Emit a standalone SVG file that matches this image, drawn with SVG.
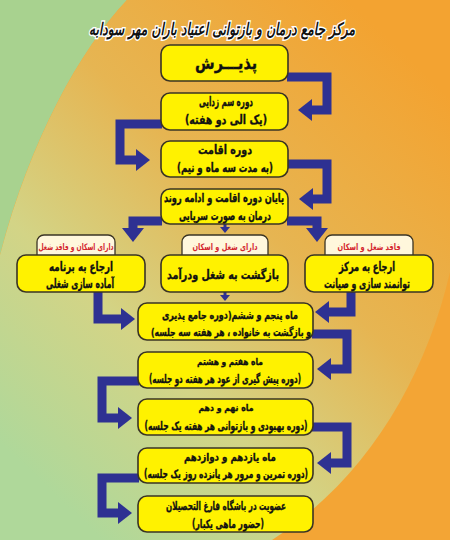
<svg xmlns="http://www.w3.org/2000/svg" width="450" height="540" viewBox="0 0 450 540">
<defs>
<linearGradient id="lens" x1="0.8" y1="0.02" x2="0.1" y2="0.9">
<stop offset="0" stop-color="#F3A331"/>
<stop offset="0.4" stop-color="#E6B552"/>
<stop offset="0.7" stop-color="#D3D486"/>
<stop offset="1" stop-color="#AFD89A"/>
</linearGradient>
<marker id="ah" markerUnits="userSpaceOnUse" markerWidth="16" markerHeight="22" refX="0" refY="11" orient="auto">
<path d="M0,0 L14,11 L0,22 Z" fill="#2E3192"/>
</marker>
<marker id="ahs" markerUnits="userSpaceOnUse" markerWidth="8" markerHeight="10" refX="0" refY="5" orient="auto">
<path d="M0,0 L6,5 L0,10 Z" fill="#2E3192"/>
</marker>
<style>
.box{fill:#FFF200;stroke:#3a3424;stroke-width:1.6}
.tab{fill:#FFF7DC;stroke:#3a3424;stroke-width:1.3}
.t{font-family:"DejaVu Sans",sans-serif;font-weight:bold;fill:#111;stroke:#111;stroke-width:0.35;text-anchor:middle;direction:rtl}
.tt{font-family:"DejaVu Sans",sans-serif;font-weight:bold;fill:#D3262E;font-size:9px;text-anchor:middle;direction:rtl}
.arr{fill:none;stroke:#2E3192;stroke-width:9;stroke-linejoin:miter;marker-end:url(#ah)}
.arrs{fill:none;stroke:#2E3192;stroke-width:3;marker-end:url(#ahs)}
</style>
</defs>
<g id="background">
<rect x="0" y="0" width="450" height="540" fill="#F3A535"/>
<path d="M0,0 L127,0 C80,50 30,140 0,255 Z" fill="#A8D28F"/>
<path d="M127,0 L450,0 L450,272 C425,380 365,480 272,540 L0,540 L0,255 C30,140 80,50 127,0 Z" fill="url(#lens)"/>
</g>
<g id="title">
<text x="222" y="35" font-family="DejaVu Sans, sans-serif" font-size="17" font-weight="bold" font-style="italic" fill="#111" stroke="#fff" stroke-width="3" paint-order="stroke" text-anchor="middle" direction="rtl" textLength="266" lengthAdjust="spacingAndGlyphs">مرکز جامع درمان و بازتوانی اعتیاد باران مهر سودابه</text>
</g>
<g id="connectors">
<polyline class="arr" points="287,77 327,77 327,110 312,110"/>
<polyline class="arr" points="162,124 120,124 120,160 136,160"/>
<polyline class="arr" points="287,164 327,164 327,199 313,199"/>
<polyline class="arr" points="162,221 133,221 133,228"/>
<polyline class="arr" points="287,221 317,221 317,228"/>
<polyline class="arrs" points="225,224 225,227"/>
<polyline class="arrs" points="225,292 225,295"/>
<polyline class="arr" points="98,291 98,319 121,319"/>
<polyline class="arr" points="351,291 351,312 329,312"/>
<polyline class="arr" points="312,334 347,334 347,369 331,369"/>
<polyline class="arr" points="139,381 102,381 102,418 118,418"/>
<polyline class="arr" points="312,427 347,427 347,463 331,463"/>
<polyline class="arr" points="139,478 102,478 102,513 118,513"/>
</g>
<g id="n1"><rect class="box" x="161" y="45" width="127" height="36" rx="9"/><text class="t" x="226" y="69" font-size="17" textLength="62" lengthAdjust="spacingAndGlyphs">پذیـــرش</text></g>
<g id="n2"><rect class="box" x="161" y="93" width="127" height="37" rx="9"/><text class="t" x="226" y="106" font-size="12.5" textLength="54" lengthAdjust="spacingAndGlyphs">دوره سم زدایی</text><text class="t" x="226" y="124" font-size="12.5" textLength="82" lengthAdjust="spacingAndGlyphs">(یک الی دو هفته)</text></g>
<g id="n3"><rect class="box" x="161" y="141" width="127" height="36" rx="9"/><text class="t" x="225" y="154" font-size="12.5" textLength="54" lengthAdjust="spacingAndGlyphs">دوره اقامت</text><text class="t" x="225" y="172" font-size="12.5" textLength="96" lengthAdjust="spacingAndGlyphs">(به مدت سه ماه و نیم)</text></g>
<g id="n4"><rect class="box" x="161" y="189" width="127" height="35" rx="9"/><text class="t" x="224" y="202" font-size="12" textLength="120" lengthAdjust="spacingAndGlyphs">پایان دوره اقامت و ادامه روند</text><text class="t" x="225" y="220" font-size="12" textLength="92" lengthAdjust="spacingAndGlyphs">درمان به صورت سرپایی</text></g>
<g id="n5"><rect class="tab" x="37" y="235" width="78" height="28" rx="7"/><rect class="box" x="17" y="255" width="128" height="37" rx="9"/><text class="tt" x="76" y="250" textLength="75" lengthAdjust="spacingAndGlyphs">دارای اسکان و فاقد شغل</text><text class="t" x="81" y="271" font-size="12.5" textLength="64" lengthAdjust="spacingAndGlyphs">ارجاع به برنامه</text><text class="t" x="80" y="288" font-size="12.5" textLength="68" lengthAdjust="spacingAndGlyphs">آماده سازی شغلی</text></g>
<g id="n6"><rect class="tab" x="182" y="235" width="86" height="28" rx="7"/><rect class="box" x="161" y="255" width="127" height="37" rx="9"/><text class="tt" x="225" y="250" textLength="65" lengthAdjust="spacingAndGlyphs">دارای شغل و اسکان</text><text class="t" x="223" y="279" font-size="12.5" textLength="112" lengthAdjust="spacingAndGlyphs">بازگشت به شغل ودرآمد</text></g>
<g id="n7"><rect class="tab" x="325" y="235" width="88" height="28" rx="7"/><rect class="box" x="305" y="255" width="128" height="37" rx="9"/><text class="tt" x="369" y="250" textLength="63" lengthAdjust="spacingAndGlyphs">فاقد شغل و اسکان</text><text class="t" x="367" y="271" font-size="12.5" textLength="56" lengthAdjust="spacingAndGlyphs">ارجاع به مرکز</text><text class="t" x="367" y="288" font-size="12.5" textLength="86" lengthAdjust="spacingAndGlyphs">توانمند سازی و صیانت</text></g>
<g id="n8"><rect class="box" x="138" y="303" width="175" height="37" rx="9"/><text class="t" x="230" y="319" font-size="11" textLength="136" lengthAdjust="spacingAndGlyphs">ماه پنجم و ششم(دوره جامع پذیری</text><text class="t" x="231" y="336" font-size="11" textLength="160" lengthAdjust="spacingAndGlyphs">و بازگشت به خانواده ، هر هفته سه جلسه)</text></g>
<g id="n9"><rect class="box" x="138" y="352" width="175" height="36" rx="9"/><text class="t" x="230" y="365" font-size="9.5" textLength="66" lengthAdjust="spacingAndGlyphs">ماه هفتم و هشتم</text><text class="t" x="225" y="383" font-size="11.5" textLength="152" lengthAdjust="spacingAndGlyphs">(دوره پیش گیری از عود هر هفته دو جلسه)</text></g>
<g id="n10"><rect class="box" x="138" y="399" width="175" height="36" rx="9"/><text class="t" x="226" y="411" font-size="9.5" textLength="55" lengthAdjust="spacingAndGlyphs">ماه نهم و دهم</text><text class="t" x="226" y="430" font-size="11.5" textLength="163" lengthAdjust="spacingAndGlyphs">(دوره بهبودی و بازتوانی هر هفته یک جلسه)</text></g>
<g id="n11"><rect class="box" x="138" y="448" width="175" height="35" rx="9"/><text class="t" x="230" y="461" font-size="11" textLength="92" lengthAdjust="spacingAndGlyphs">ماه یازدهم و دوازدهم</text><text class="t" x="226" y="478" font-size="11.5" textLength="164" lengthAdjust="spacingAndGlyphs">(دوره تمرین و مرور هر پانزده روز یک جلسه)</text></g>
<g id="n12"><rect class="box" x="138" y="496" width="175" height="36" rx="9"/><text class="t" x="226" y="510" font-size="11.5" textLength="120" lengthAdjust="spacingAndGlyphs">عضویت در باشگاه فارغ التحصیلان</text><text class="t" x="228" y="528" font-size="11.5" textLength="72" lengthAdjust="spacingAndGlyphs">(حضور ماهی یکبار)</text></g>
</svg>
